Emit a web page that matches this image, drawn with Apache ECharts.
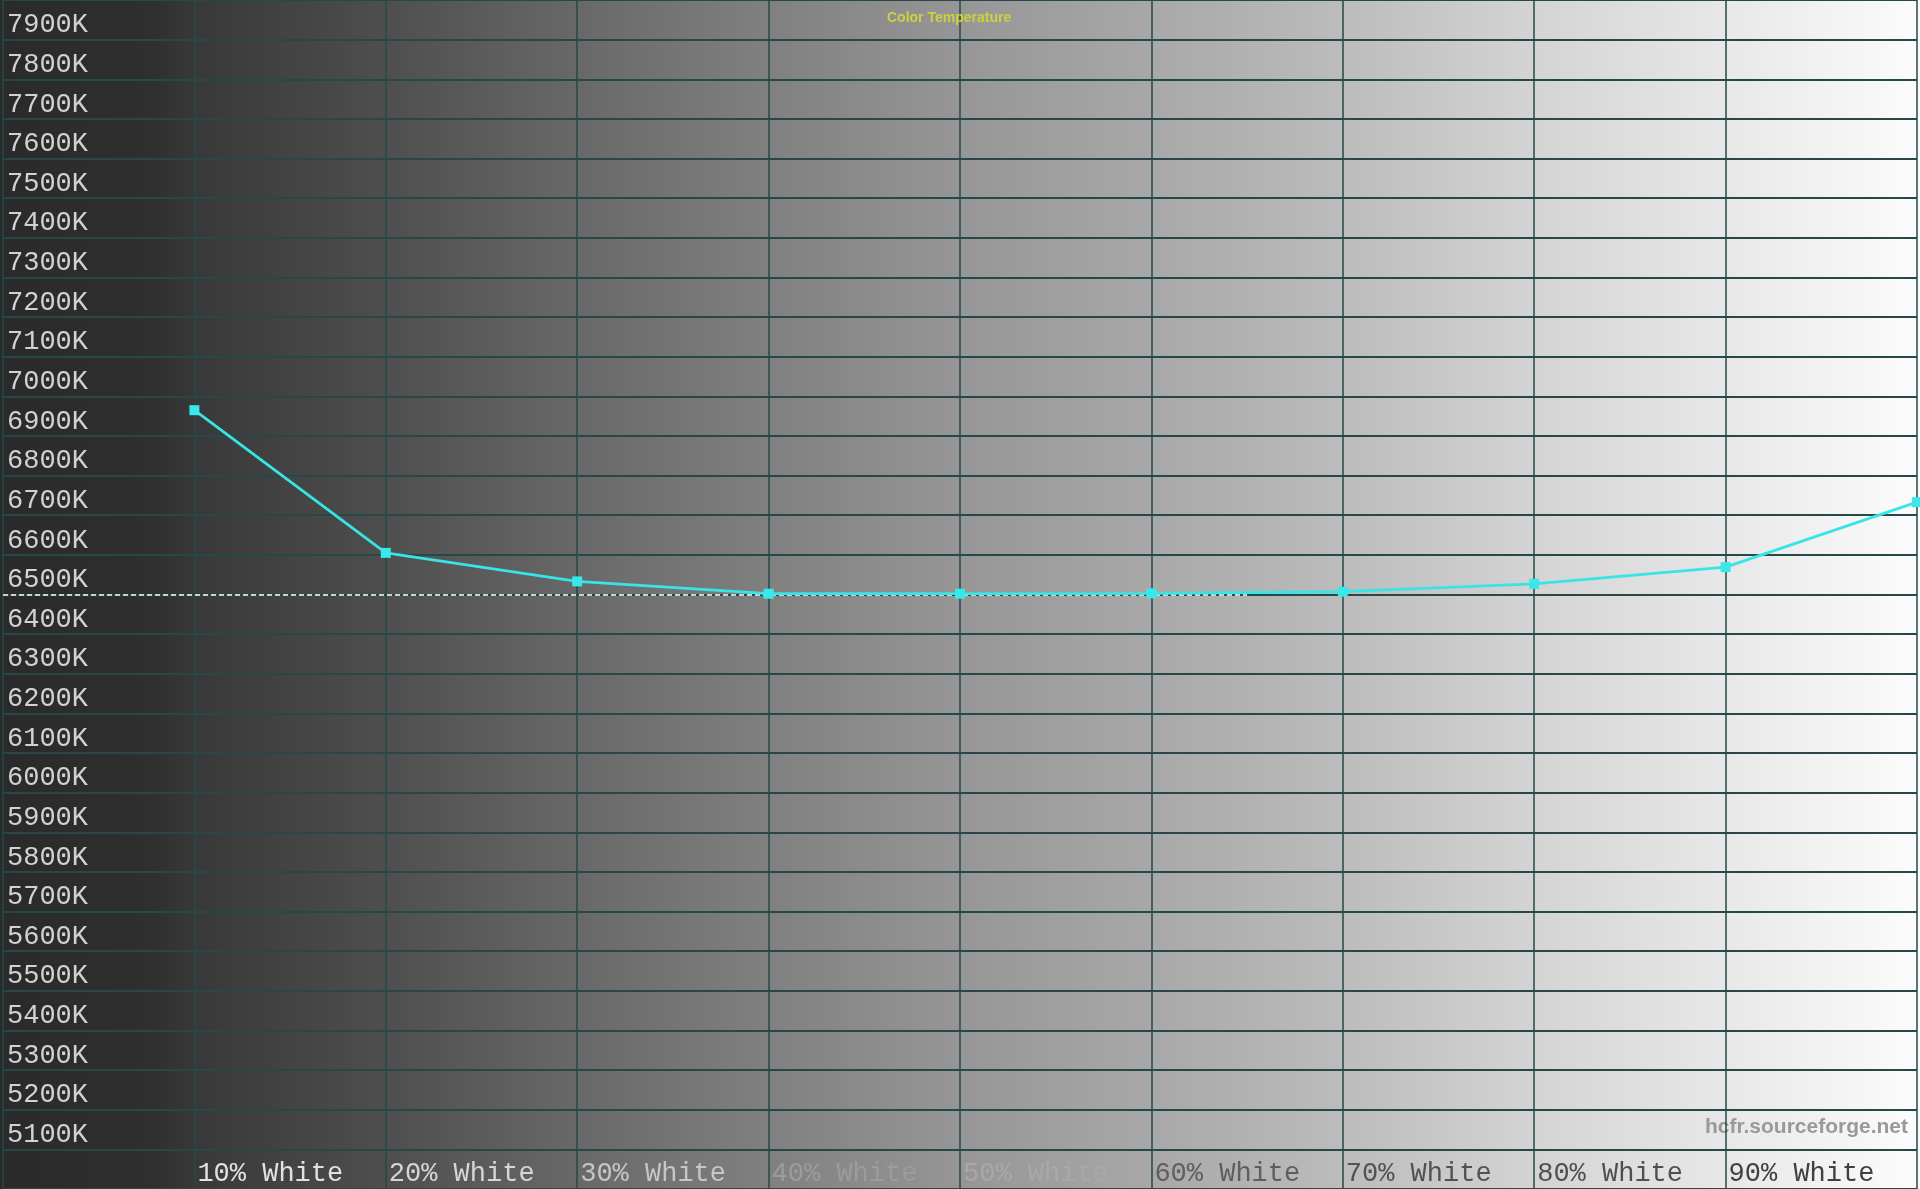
<!DOCTYPE html>
<html>
<head>
<meta charset="utf-8">
<script src="https://cdn.jsdelivr.net/npm/echarts@6/dist/echarts.min.js"></script>
<style>
html,body{margin:0;padding:0;width:1920px;height:1189px;overflow:hidden;background:#888;}
#chart{width:1920px;height:1189px;}
</style>
</head>
<body>
<div id="chart"></div>
<script>
// ---- data ----
const categories = ['10% White','20% White','30% White','40% White','50% White','60% White','70% White','80% White','90% White','100% White'];
const levels = [10,20,30,40,50,60,70,80,90,100];
const colorTemp = [6965,6605,6533,6502,6502,6503,6507,6527,6569,6733];
const targetTemp = 6500;
const targetSpan = [0, 65];
const yMin = 5000, yMax = 8000, yStep = 100;
const yLabelMin = 5100, yLabelMax = 7900;

// ---- styles ----
const xLabelColors = {10:'#e2e2e2',20:'#d6d6d6',30:'#c6c6c6',40:'#9c9c9c',50:'#a8a8a8',60:'#5e5e5e',70:'#525252',80:'#505050',90:'#404040'};
const bgGradient = {
  type:'linear', x:0, y:0, x2:1, y2:0,
  colorStops:[
    {offset:0.00,color:'#2a2a2a'},
    {offset:0.08,color:'#2f2f2f'},
    {offset:0.10,color:'#383838'},
    {offset:0.20,color:'#4e4e4e'},
    {offset:0.30,color:'#686868'},
    {offset:0.40,color:'#808080'},
    {offset:0.50,color:'#969696'},
    {offset:0.60,color:'#a8a8a8'},
    {offset:0.70,color:'#bcbcbc'},
    {offset:0.80,color:'#d4d4d4'},
    {offset:0.90,color:'#e8e8e8'},
    {offset:1.00,color:'#fcfcfc'}
  ]
};
const gridColor = '#264848';
const seriesData = levels.map((l,i)=>[l, colorTemp[i]]);

const chart = echarts.init(document.getElementById('chart'));
chart.setOption({
  animation:false,
  backgroundColor: bgGradient,
  title:{
    text:'Color Temperature', left:882, top:6,
    textStyle:{color:'#cfd13c', fontSize:14, fontWeight:'bold', fontFamily:'Liberation Sans, Arial, sans-serif'}
  },
  grid:{left:0,right:0,top:0,bottom:0,containLabel:false,show:false},
  xAxis:{
    type:'value', min:0, max:100, interval:10,
    axisLine:{show:false}, axisTick:{show:false},
    splitLine:{show:true, lineStyle:{color:gridColor, width:1.5}},
    axisLabel:{
      inside:true, margin:15, align:'left', verticalAlign:'middle',
      padding:[0,0,0,3],
      fontFamily:'Liberation Mono, Courier New, monospace', fontSize:27,
      color:(v)=>xLabelColors[v] || '#444',
      formatter:(v)=>{ const i = levels.indexOf(v); return (i>=0 && v<100) ? categories[i] : ''; }
    }
  },
  yAxis:{
    type:'value', min:yMin, max:yMax, interval:yStep,
    axisLine:{show:false}, axisTick:{show:false},
    splitLine:{show:true, lineStyle:{color:gridColor, width:2}},
    axisLabel:{
      inside:true, margin:4, align:'left', verticalAlign:'bottom',
      padding:[0,0,1,0],
      fontFamily:'Liberation Mono, Courier New, monospace', fontSize:27,
      color:'#d2d2d2',
      formatter:(v)=> (v>=yLabelMin && v<=yLabelMax) ? v+'K' : ''
    }
  },
  graphic:[{
    type:'text', right:12, top:1117,
    style:{text:'hcfr.sourceforge.net', font:'bold 21px "Liberation Sans", Arial, sans-serif', fill:'#999999'}
  }],
  series:[{
    type:'line', data:seriesData,
    symbol:'rect', symbolSize:10,
    lineStyle:{color:'#38e4e6', width:2.8},
    itemStyle:{color:'#38e8ea'},
    z:5,
    markLine:{
      silent:true, symbol:['none','none'],
      label:{show:false},
      lineStyle:{color:'#ffffff', type:[5,3], width:1.5},
      data:[[{coord:[targetSpan[0], targetTemp]},{coord:[targetSpan[1], targetTemp]}]]
    }
  }]
});
</script>
</body>
</html>
